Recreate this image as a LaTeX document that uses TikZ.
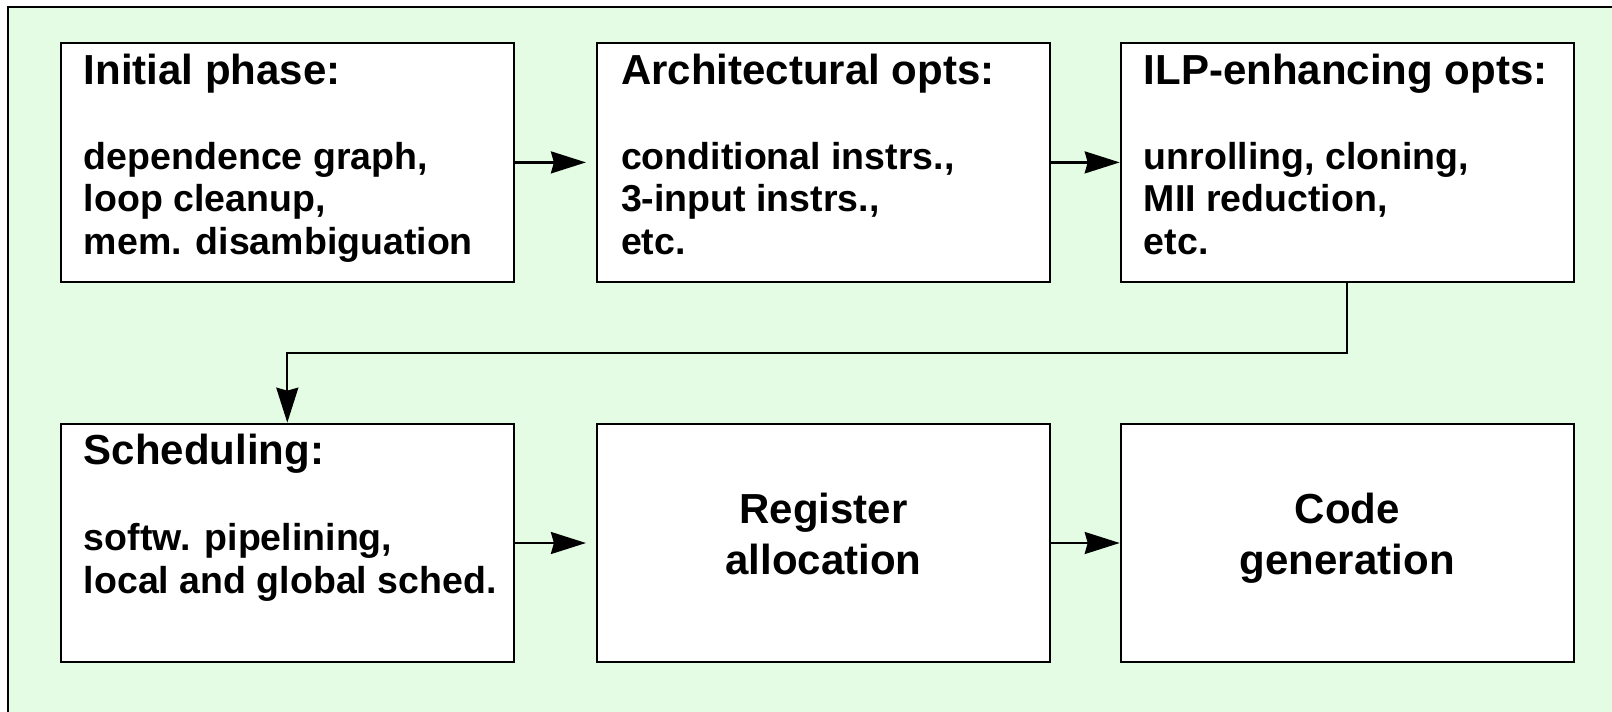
\documentclass[tikz,border=0pt]{standalone}
\usepackage{fontspec}
\setmainfont{Liberation Sans}
\usetikzlibrary{arrows.meta}
\definecolor{panelgreen}{RGB}{228,252,228}

\begin{document}
\begin{tikzpicture}[x=1pt,y=-1pt,
  stage/.style={draw, line width=2.2pt, fill=white, minimum width=453pt,
    minimum height=238.5pt, inner sep=0pt},
  headtext/.style={font=\bfseries\fontsize{42}{51}\selectfont, anchor=base west, inner sep=0pt},
  bodytext/.style={font=\bfseries\fontsize{37.5}{42.7}\selectfont, anchor=base west, inner sep=0pt},
  centertext/.style={font=\bfseries\fontsize{42}{51}\selectfont, anchor=base, inner sep=0pt},
  flow/.style={line width=2.2pt, -{Stealth[length=35pt,width=22pt,inset=3pt]}}]

\useasboundingbox (0,0) rectangle (1612,712);
\fill[white] (0,0) rectangle (1612,712);
% panel background, open to the right and bottom
\draw[line width=2.2pt, fill=panelgreen] (8,7) rectangle (1650,750);

% stage boxes
\node[stage] (b1) at (287.3,162.4) {};
\node[stage] (b2) at (823.5,162.4) {};
\node[stage] (b3) at (1347.3,162.4) {};
\node[stage] (b4) at (287.3,543) {};
\node[stage] (b5) at (823.5,543) {};
\node[stage] (b6) at (1347.3,543) {};

% box 1
\node[headtext] (t1) at ([shift={(24,42)}]b1.north west) {Initial phase:};
\node[bodytext] (t1a) at ([shift={(24,127)}]b1.north west) {dependence graph,};
\node[bodytext] (t1b) at ([shift={(24,169.5)}]b1.north west) {loop cleanup,};
\node[bodytext] (t1c) at ([shift={(24,212)}]b1.north west) {mem. disambiguation};

% box 2
\node[headtext] (t2) at ([shift={(25,42)}]b2.north west) {Architectural opts:};
\node[bodytext] (t2a) at ([shift={(25,127)}]b2.north west) {conditional instrs.,};
\node[bodytext] (t2b) at ([shift={(25,169.5)}]b2.north west) {3-input instrs.,};
\node[bodytext] (t2c) at ([shift={(25,212)}]b2.north west) {etc.};

% box 3
\node[headtext] (t3) at ([shift={(24,42)}]b3.north west) {ILP-enhancing opts:};
\node[bodytext] (t3a) at ([shift={(24,127)}]b3.north west) {unrolling, cloning,};
\node[bodytext] (t3b) at ([shift={(24,169.5)}]b3.north west) {MII reduction,};
\node[bodytext] (t3c) at ([shift={(24,212)}]b3.north west) {etc.};

% box 4
\node[headtext] (t4) at ([shift={(24,42)}]b4.north west) {Scheduling:};
\node[bodytext] (t4a) at ([shift={(24,128)}]b4.north west) {softw. pipelining,};
\node[bodytext] (t4b) at ([shift={(24,170.5)}]b4.north west) {local and global sched.};

% boxes 5 and 6
\node[centertext] (t5a) at ([yshift=20pt]b5.center) {Register};
\node[centertext] (t5b) at ([yshift=-31pt]b5.center) {allocation};
\node[centertext] (t6a) at ([yshift=20pt]b6.center) {Code};
\node[centertext] (t6b) at ([yshift=-31pt]b6.center) {generation};

% connectors
\coordinate (turn) at (0,352.6);
\draw[flow, shorten >=10pt] (b1.east) -- (b2.west);
\draw[flow] (b2.east) -- (b3.west);
\draw[flow] (b3.south) |- (turn -| b4.north) -- (b4.north);
\draw[flow, shorten >=10pt] (b4.east) -- (b5.west);
\draw[flow] (b5.east) -- (b6.west);
\end{tikzpicture}
\end{document}
